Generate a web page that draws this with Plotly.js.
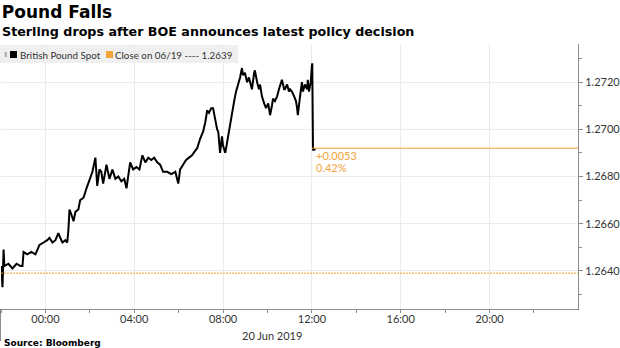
<!DOCTYPE html>
<html>
<head>
<meta charset="utf-8">
<script src="https://cdn.plot.ly/plotly-3.0.1.min.js"></script>
<style>html,body{margin:0;padding:0;background:#fff;}#chart{width:620px;height:348px;}</style>
</head>
<body>
<div id="chart"></div>
<script>
// ---- data ----
// minutes after 2019-06-19 22:00 (London)
var minutesAfterStart = [1,4,7,9,20,31,42,53,58,61,71,82,93,98,104,115,125,131,139,147,155,160,166,174,179,182,185,190,196,201,209,214,223,231,239,247,255,258,260,266,271,276,285,293,301,309,317,325,333,339,344,349,357,366,374,382,390,398,406,414,422,430,438,449,460,471,479,484,492,500,508,516,525,530,538,546,552,557,562,568,573,579,584,587,592,597,600,606,611,619,624,630,635,641,646,651,654,659,665,670,676,678,684,686,692,697,700,705,711,716,722,727,732,735,740,746,751,754,759,765,767,773,778,781,786,792,797,800,802,808,813,816,821,827,829,832,837,840,841,843,846,848];
var gbpSpot = [1.2642,1.2633,1.2649,1.2642,1.2643,1.2641,1.2643,1.2642,1.2642,1.2648,1.2647,1.2648,1.2647,1.2649,1.2651,1.2652,1.2653,1.2654,1.2652,1.2653,1.2656,1.2654,1.2652,1.2653,1.2652,1.2657,1.2666,1.2664,1.2661,1.2665,1.2666,1.2670,1.2671,1.2675,1.2679,1.2682,1.2688,1.2680,1.2676,1.2683,1.2682,1.2677,1.2685,1.2679,1.2683,1.2679,1.2680,1.2678,1.2679,1.2675,1.2680,1.2686,1.2683,1.2684,1.2683,1.2689,1.2686,1.2688,1.2687,1.2688,1.2686,1.2685,1.2682,1.2682,1.2681,1.2682,1.2677,1.2683,1.2685,1.2687,1.2688,1.2689,1.2691,1.2692,1.2696,1.2699,1.2703,1.2708,1.2707,1.2709,1.2709,1.2703,1.2700,1.2699,1.2690,1.2697,1.2693,1.2690,1.2695,1.2703,1.2708,1.2712,1.2716,1.2719,1.2722,1.2726,1.2723,1.2724,1.2720,1.2722,1.2719,1.2717,1.2724,1.2725,1.2720,1.2717,1.2719,1.2714,1.2711,1.2709,1.2711,1.2706,1.2710,1.2713,1.2712,1.2714,1.2717,1.2719,1.2721,1.2717,1.2717,1.2719,1.2716,1.2717,1.2716,1.2714,1.2712,1.2709,1.2706,1.2714,1.2720,1.2716,1.2719,1.2717,1.2721,1.2716,1.2720,1.2727,1.2728,1.2691,1.2692,1.2691];
var priorClose = 1.2639;
var lastPrice = 1.2692;
var changeLabels = ["+0.0053", "0.42%"];
var legendLabels = ["British Pound Spot", "Close on 06/19 ---- 1.2639"];
var yTickVals = [1.2640, 1.2660, 1.2680, 1.2700, 1.2720];
var titleText = "Pound Falls";
var subtitleText = "Sterling drops after BOE announces latest policy decision";
var sourceText = "Source: Bloomberg";
var dateLabel = "20 Jun 2019";

// ---- helpers ----
function pad(n){return (n<10?"0":"")+n;}
var startMs = Date.UTC(2019,5,19,22,0,0);
function toStamp(m){
  var d = new Date(startMs + m*60000);
  return d.getUTCFullYear()+"-"+pad(d.getUTCMonth()+1)+"-"+pad(d.getUTCDate())+" "+pad(d.getUTCHours())+":"+pad(d.getUTCMinutes());
}
var times = minutesAfterStart.map(toStamp);
var xStart = "2019-06-19 22:00", xEnd = "2019-06-20 23:59", annTime = "2019-06-20 12:00";

// plot area in pixels
var L=1, R=578, T=44, B=309;
function px(x){return (x-L)/(R-L);}
function py(y){return (B-y)/(B-T);}

var ORANGE = "#f2a33a";
var GRID = "#ebebeb";
var AXIS = "#8c8c8c";
var TXT = "#333333";

var traces = [{
  type:"scatter", mode:"lines", x:times, y:gbpSpot,
  line:{color:"#000000", width:2}, hoverinfo:"skip", showlegend:false
},{
  type:"scatter", mode:"lines", x:[xStart, xEnd], y:[priorClose, priorClose],
  line:{color:"#f0a030", width:1, dash:"2px,1px"}, hoverinfo:"skip", showlegend:false
},{
  type:"scatter", mode:"lines", x:[annTime, xEnd], y:[lastPrice, lastPrice],
  line:{color:ORANGE, width:1}, hoverinfo:"skip", showlegend:false
}];

var layout = {
  width:620, height:348,
  margin:{l:L, r:620-R, t:T, b:348-B, pad:0},
  paper_bgcolor:"#ffffff", plot_bgcolor:"#ffffff",
  showlegend:false,
  font:{family:"Lato", size:11, color:TXT},
  title:{text:titleText, x:0.003, xref:"container", xanchor:"left", y:1-12/348, yref:"container", yanchor:"middle",
         font:{family:"DejaVu Sans", size:17, weight:"bold", color:"#000"}},
  xaxis:{type:"date", range:[xStart, xEnd], tick0:"2019-06-20 00:00", dtick:4*3600000,
         tickformat:"%H:%M", showgrid:true, gridcolor:GRID, gridwidth:1,
         ticks:"outside", ticklen:3, tickcolor:AXIS, showline:true, linecolor:AXIS, linewidth:1,
         ticklabelstandoff:-3,
         minor:{dtick:2*3600000, tick0:"2019-06-20 00:00", ticks:"outside", ticklen:3, tickcolor:AXIS, showgrid:false},
         tickfont:{family:"Lato", size:11, color:TXT}, zeroline:false, fixedrange:true},
  yaxis:{side:"right", range:[1.26238, 1.27362], tickvals:yTickVals, tickformat:".4f",
         showgrid:true, gridcolor:GRID, gridwidth:1,
         ticks:"outside", ticklen:4, tickcolor:AXIS, showline:true, linecolor:AXIS, linewidth:1,
         minor:{dtick:0.001, ticks:"outside", ticklen:3, tickcolor:AXIS, showgrid:false},
         tickfont:{family:"Lato", size:11, color:TXT}, zeroline:false, fixedrange:true},
  shapes:[
    {type:"rect", xref:"paper", yref:"paper", x0:px(0), x1:px(238), y0:py(63), y1:py(45), fillcolor:"#efefef", line:{width:0}, layer:"above"},
    {type:"rect", xref:"paper", yref:"paper", x0:px(4.5), x1:px(7), y0:py(57), y1:py(52), fillcolor:"#b5b5b5", line:{width:0}, layer:"above"},
    {type:"rect", xref:"paper", yref:"paper", x0:px(10), x1:px(17), y0:py(58), y1:py(51), fillcolor:"#000000", line:{width:0}, layer:"above"},
    {type:"rect", xref:"paper", yref:"paper", x0:px(106), x1:px(113), y0:py(58), y1:py(51), fillcolor:ORANGE, line:{width:0}, layer:"above"},
    {type:"line", xref:"paper", yref:"paper", x0:px(0.5), x1:px(0.5), y0:py(309), y1:py(341), line:{color:AXIS, width:1}}
  ],
  annotations:[
    {text:subtitleText, xref:"paper", yref:"paper", x:px(0), y:py(31), xanchor:"left", yanchor:"middle", showarrow:false,
     font:{family:"DejaVu Sans", size:12.7, weight:"bold", color:"#000"}},
    {text:legendLabels[0], xref:"paper", yref:"paper", x:px(18), y:py(54.5), xanchor:"left", yanchor:"middle", showarrow:false,
     font:{family:"Lato", size:9.8, color:TXT}},
    {text:legendLabels[1], xref:"paper", yref:"paper", x:px(113), y:py(54.5), xanchor:"left", yanchor:"middle", showarrow:false,
     font:{family:"Lato", size:9.8, color:TXT}},
    {text:changeLabels[0], xref:"x", yref:"y", x:"2019-06-20 12:05", y:1.26889, xanchor:"left", yanchor:"middle", showarrow:false,
     font:{family:"Lato", size:11, color:ORANGE}},
    {text:changeLabels[1], xref:"x", yref:"y", x:"2019-06-20 12:05", y:1.26838, xanchor:"left", yanchor:"middle", showarrow:false,
     font:{family:"Lato", size:11, color:ORANGE}},
    {text:dateLabel, xref:"paper", yref:"paper", x:px(272), y:py(335), xanchor:"center", yanchor:"middle", showarrow:false,
     font:{family:"Lato", size:11, color:TXT}},
    {text:sourceText, xref:"paper", yref:"paper", x:px(2), y:py(343), xanchor:"left", yanchor:"middle", showarrow:false,
     font:{family:"DejaVu Sans", size:9, weight:"bold", color:"#000"}}
  ]
};

Plotly.newPlot("chart", traces, layout, {staticPlot:true, displayModeBar:false});
</script>
</body>
</html>
